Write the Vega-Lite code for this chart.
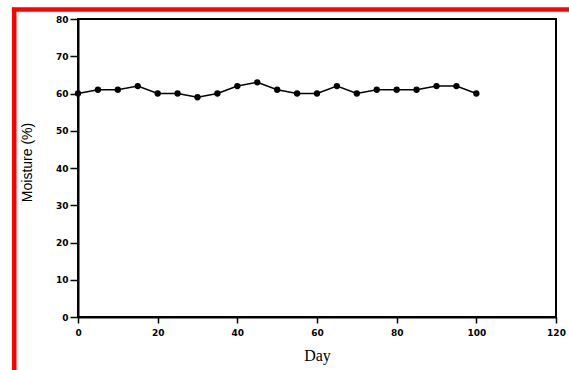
{
  "$schema": "https://vega.github.io/schema/vega-lite/v6.json",
  "autosize": "none",
  "width": 478,
  "height": 298,
  "padding": {"left": 78, "top": 19, "right": 13, "bottom": 53},
  "background": "white",
  "config": {
    "view": {"stroke": "black", "strokeWidth": 2}
  },
  "datasets": {
    "moisture": [
      {"day": 0, "moisture": 60},
      {"day": 5, "moisture": 61},
      {"day": 10, "moisture": 61},
      {"day": 15, "moisture": 62},
      {"day": 20, "moisture": 60},
      {"day": 25, "moisture": 60},
      {"day": 30, "moisture": 59},
      {"day": 35, "moisture": 60},
      {"day": 40, "moisture": 62},
      {"day": 45, "moisture": 63},
      {"day": 50, "moisture": 61},
      {"day": 55, "moisture": 60},
      {"day": 60, "moisture": 60},
      {"day": 65, "moisture": 62},
      {"day": 70, "moisture": 60},
      {"day": 75, "moisture": 61},
      {"day": 80, "moisture": 61},
      {"day": 85, "moisture": 61},
      {"day": 90, "moisture": 62},
      {"day": 95, "moisture": 62},
      {"day": 100, "moisture": 60}
    ]
  },
  "encoding": {
    "x": {
      "field": "day",
      "type": "quantitative",
      "scale": {"domain": [0, 120], "nice": false},
      "axis": {
        "values": [0, 20, 40, 60, 80, 100, 120],
        "grid": false,
        "domainColor": "black",
        "domainWidth": 2,
        "tickColor": "black",
        "tickWidth": 1.5,
        "tickSize": 6,
        "labelFont": "DejaVu Sans",
        "labelFontWeight": "bold",
        "labelFontSize": 9,
        "labelColor": "black",
        "labelFlush": false,
        "labelOverlap": false,
        "labelPadding": 5,
        "title": "Day",
        "titleColor": "black",
        "titleFontWeight": "normal",
        "titleFont": "Liberation Serif",
        "titleFontSize": 16,
        "titleBaseline": "alphabetic",
        "titleY": 43
      }
    },
    "y": {
      "field": "moisture",
      "type": "quantitative",
      "scale": {"domain": [0, 80], "nice": false},
      "axis": {
        "values": [0, 10, 20, 30, 40, 50, 60, 70, 80],
        "grid": false,
        "domainColor": "black",
        "domainWidth": 2,
        "tickColor": "black",
        "tickWidth": 1.5,
        "tickSize": 8,
        "labelFont": "DejaVu Sans",
        "labelFontWeight": "bold",
        "labelFontSize": 9,
        "labelColor": "black",
        "labelFlush": false,
        "labelOverlap": false,
        "labelPadding": 2,
        "title": "Moisture (%)",
        "titleColor": "black",
        "titleFontWeight": "normal",
        "titleFont": "Liberation Sans",
        "titleFontSize": 14,
        "titleAngle": -90,
        "titleAlign": "center",
        "titleBaseline": "middle",
        "titleX": -51,
        "titleY": 143
      }
    }
  },
  "layer": [
    {
      "data": {"name": "moisture"},
      "mark": {"type": "line", "color": "black", "strokeWidth": 1.5}
    },
    {
      "data": {"name": "moisture"},
      "mark": {"type": "point", "filled": true, "color": "black", "size": 40, "opacity": 1}
    },
    {
      "data": {"values": [{"day": -16, "moisture": -15, "moisture_end": 83}]},
      "mark": {"type": "rule", "color": "red", "strokeWidth": 4.5},
      "encoding": {
        "y2": {"field": "moisture_end"}
      }
    },
    {
      "data": {"values": [{"day": -16.6, "day_end": 124, "moisture": 82.55}]},
      "mark": {"type": "rule", "color": "red", "strokeWidth": 4.5},
      "encoding": {
        "x2": {"field": "day_end"}
      }
    }
  ]
}
